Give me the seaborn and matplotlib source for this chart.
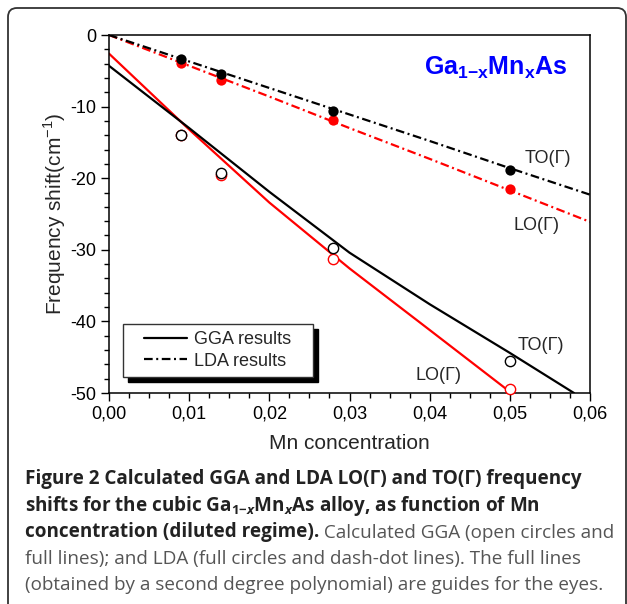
import matplotlib

matplotlib.use("Agg")

import matplotlib.pyplot as plt
import seaborn as sns
from matplotlib.lines import Line2D
from matplotlib.patches import FancyBboxPatch, Rectangle
from matplotlib.ticker import FuncFormatter, MultipleLocator
from matplotlib.transforms import IdentityTransform

# calculated frequency shifts (cm^-1) at the computed Mn concentrations
mn_conc = [0.009, 0.014, 0.028, 0.050]
to_lda = [-3.4, -5.4, -10.6, -18.8]
lo_lda = [-3.9, -6.3, -11.9, -21.5]
to_gga = [-14.0, -19.3, -29.8, -45.5]
lo_gga = [-14.0, -19.5, -31.3, -49.4]

# guide lines (second degree polynomial)
lda_guide_x = [0.0, 0.01, 0.02, 0.03, 0.04, 0.05, 0.06]
to_lda_guide = [0.0, -3.7, -7.4, -11.1, -14.8, -18.6, -22.3]
lo_lda_guide = [0.0, -4.3, -8.6, -13.0, -17.3, -21.7, -26.1]
to_gga_guide_x = [0.0, 0.01, 0.02, 0.03, 0.04, 0.05, 0.058]
to_gga_guide = [-4.3, -13.0, -21.9, -30.4, -37.6, -44.4, -50.0]
lo_gga_guide_x = [0.0, 0.01, 0.02, 0.03, 0.04, 0.0502]
lo_gga_guide = [-2.6, -13.2, -23.4, -32.6, -41.2, -50.0]

RED = "#ff0000"
DASH_DOT = (0, (3.9, 1.6, 0.9, 1.6))

sns.set_style("ticks")
plt.rcParams["font.family"] = ["Liberation Sans", "DejaVu Sans"]
plt.rcParams["mathtext.fontset"] = "custom"
plt.rcParams["mathtext.rm"] = "Liberation Sans"
plt.rcParams["mathtext.bf"] = "Liberation Sans:bold"
plt.rcParams["mathtext.sf"] = "Open Sans:bold"
plt.rcParams["mathtext.it"] = "Open Sans:bold:italic"

W, H = 627, 604
fig = plt.figure(figsize=(W / 100, H / 100), dpi=100)
ax = fig.add_axes([109 / W, 1 - 393 / H, 481 / W, 358 / H])

# guide lines
sns.lineplot(x=lda_guide_x, y=lo_lda_guide, color=RED, lw=1.6, linestyle=DASH_DOT, ax=ax)
sns.lineplot(x=lda_guide_x, y=to_lda_guide, color="black", lw=1.6, linestyle=DASH_DOT, ax=ax)
sns.lineplot(x=lo_gga_guide_x, y=lo_gga_guide, color=RED, lw=1.6, ax=ax)
sns.lineplot(x=to_gga_guide_x, y=to_gga_guide, color="black", lw=1.6, ax=ax)

# computed points
sns.scatterplot(x=mn_conc, y=lo_lda, color=RED, s=55, edgecolor=RED, linewidth=0, ax=ax, zorder=3)
sns.scatterplot(x=mn_conc, y=to_lda, color="black", s=55, edgecolor="black", linewidth=0, ax=ax, zorder=3)
sns.scatterplot(x=mn_conc, y=lo_gga, facecolor="white", edgecolor=RED, s=55, linewidth=1.0, ax=ax, zorder=3, clip_on=False)
sns.scatterplot(x=mn_conc, y=to_gga, facecolor="white", edgecolor="black", s=55, linewidth=1.0, ax=ax, zorder=3, clip_on=False)

ax.set_xlim(0, 0.06)
ax.set_ylim(-50, 0)
ax.xaxis.set_major_locator(MultipleLocator(0.01))
ax.xaxis.set_minor_locator(MultipleLocator(0.0025))
ax.yaxis.set_major_locator(MultipleLocator(10))
ax.yaxis.set_minor_locator(MultipleLocator(2))
ax.xaxis.set_major_formatter(FuncFormatter(lambda v, p: f"{v:.2f}".replace(".", ",")))
ax.yaxis.set_major_formatter(FuncFormatter(lambda v, p: f"{v:.0f}"))
ax.tick_params(which="both", direction="out", top=False, right=False, width=1.0, colors="black")
ax.tick_params(which="major", length=6, labelsize=13, pad=3)
ax.tick_params(which="minor", length=3.5)
for spine in ax.spines.values():
    spine.set_linewidth(1.1)
    spine.set_color("black")

ax.set_xlabel("Mn concentration", fontsize=15, labelpad=8)
ax.set_ylabel("Frequency shift(cm$^{-1}$)", fontsize=15, labelpad=2)

# curve labels
ax.text(0.0519, -17.3, "TO(Γ)", fontsize=13, va="center")
ax.text(0.0504, -26.6, "LO(Γ)", fontsize=13, va="center")
ax.text(0.0510, -43.3, "TO(Γ)", fontsize=13, va="center")
ax.text(0.0382, -47.5, "LO(Γ)", fontsize=13, va="center")
ax.text(0.0393, -4.6, r"Ga$_{\mathbf{1{-}x}}$Mn$_{\mathbf{x}}$As", fontsize=18,
        fontweight="bold", color="#0000ff", va="center")

# legend box with a solid offset shadow
box_x, box_y, box_w, box_h = 0.0285, 0.0455, 0.395, 0.147
ax.add_patch(Rectangle((box_x + 5 / 481, box_y - 5 / 358), box_w, box_h, transform=ax.transAxes,
                       fc="black", ec="black", zorder=5))
ax.add_patch(Rectangle((box_x, box_y), box_w, box_h, transform=ax.transAxes,
                       fc="white", ec="#333333", lw=1.0, zorder=5.1))
handles = [
    Line2D([], [], color="black", lw=1.6),
    Line2D([], [], color="black", lw=1.6, linestyle=DASH_DOT),
]
leg = ax.legend(handles, ["GGA results", "LDA results"], loc="center",
                bbox_to_anchor=(box_x + box_w / 2, box_y + box_h / 2), frameon=False,
                fontsize=13, handlelength=2.4, handletextpad=0.4, labelspacing=0.25)
leg.set_zorder(6)

# outer frame
fig.patches.append(FancyBboxPatch((8, -12), 618, 608, boxstyle="round,pad=0,rounding_size=9",
                                  transform=IdentityTransform(), fill=False, ec="#333333", lw=1.3))

# caption: bold heading followed by regular text
caption_lines = [
    [("Figure 2 Calculated GGA and LDA LO(Γ) and TO(Γ) frequency", "bold")],
    [(r"shifts for the cubic Ga$_{\mathsf{1{-}}x}$Mn$_{x}$As alloy, as function of Mn", "bold")],
    [("concentration (diluted regime).", "bold"), (" Calculated GGA (open circles and", "normal")],
    [("full lines); and LDA (full circles and dash-dot lines). The full lines", "normal")],
    [("(obtained by a second degree polynomial) are guides for the eyes.", "normal")],
]
caption_baselines = [484, 511, 537.5, 564, 590]
renderer = fig.canvas.get_renderer()
for parts, baseline in zip(caption_lines, caption_baselines):
    x_px = 25
    for text, weight in parts:
        color = "#222222" if weight == "bold" else "#555555"
        t = fig.text(x_px / W, 1 - baseline / H, text, fontsize=13.6, fontweight=weight,
                     family=["Open Sans", "DejaVu Sans"], color=color, va="baseline")
        x_px += t.get_window_extent(renderer).width

fig.savefig("out.png", dpi=100)
